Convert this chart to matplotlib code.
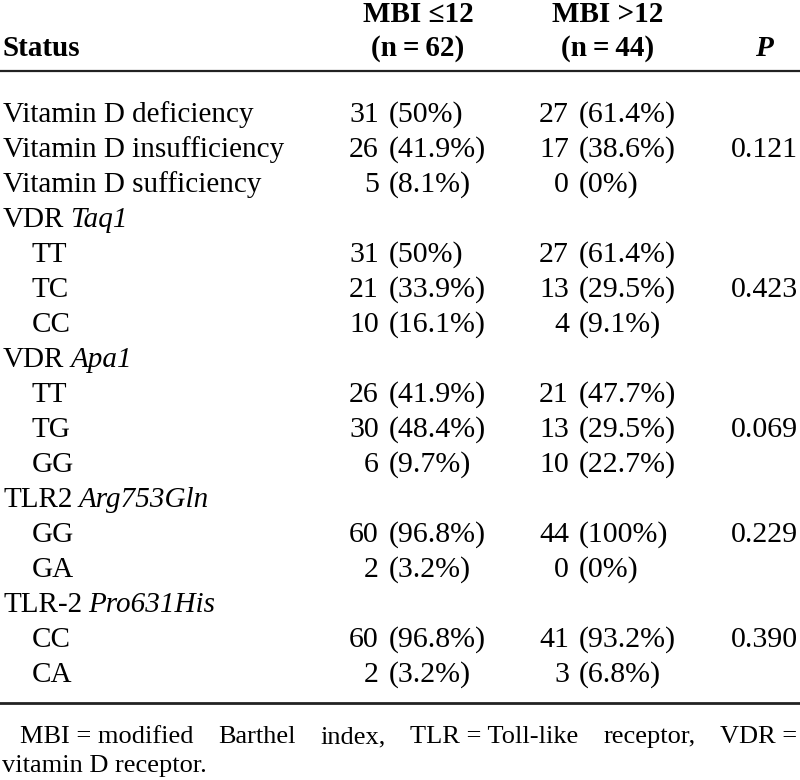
import matplotlib
matplotlib.use("Agg")
import matplotlib.pyplot as plt
from matplotlib.lines import Line2D

plt.rcParams['font.family'] = ['Liberation Serif', 'DejaVu Serif']

# table content
header_groups = ["MBI \u226412", "MBI >12"]
header_counts = ["(n\u2009=\u200962)", "(n\u2009=\u200944)"]

status_text = ["Vitamin D deficiency", "Vitamin D insufficiency", "Vitamin D sufficiency",
               "VDR", "TT", "TC", "CC",
               "VDR", "TT", "TG", "GG",
               "TLR2", "GG", "GA",
               "TLR-2", "CC", "CA"]
status_italic = ["", "", "", "Taq1", "", "", "", "Apa1", "", "", "",
                 "Arg753Gln", "", "", "Pro631His", "", ""]
is_sub = [0, 0, 0, 0, 1, 1, 1, 0, 1, 1, 1, 0, 1, 1, 0, 1, 1]

n_low = ["31", "26", "5", "", "31", "21", "10", "", "26", "30", "6", "", "60", "2", "", "60", "2"]
pct_low = ["50%", "41.9%", "8.1%", "", "50%", "33.9%", "16.1%", "", "41.9%", "48.4%", "9.7%",
           "", "96.8%", "3.2%", "", "96.8%", "3.2%"]
n_high = ["27", "17", "0", "", "27", "13", "4", "", "21", "13", "10", "", "44", "0", "", "41", "3"]
pct_high = ["61.4%", "38.6%", "0%", "", "61.4%", "29.5%", "9.1%", "", "47.7%", "29.5%", "22.7%",
            "", "100%", "0%", "", "93.2%", "6.8%"]
p_values = ["", "0.121", "", "", "", "0.423", "", "", "", "0.069", "", "",
            "0.229", "", "", "0.390", ""]

footnote_words = ["MBI = modified", "Barthel", "index,", "TLR = Toll-like",
                  "receptor,", "VDR ="]
footnote_line2 = "vitamin D receptor."

W, H = 800, 780
fig = plt.figure(figsize=(W / 100, H / 100), dpi=100)
renderer = fig.canvas.get_renderer()


def px(x, y):
    return x / W, 1 - y / H


def put(x, y, s, **kw):
    return fig.text(*px(x, y), s, va='baseline', **kw)


def width_of(t):
    return t.get_window_extent(renderer=renderer).width


lab_size = 21
num_size = 21.5
head_size = 21

# header
col_low, col_high, col_p = 418, 608, 764
for cx, g, c in zip([col_low, col_high], header_groups, header_counts):
    put(cx, 22, g, ha='center', fontsize=head_size, fontweight='bold')
    put(cx, 56, c, ha='center', fontsize=head_size, fontweight='bold')
put(3, 56, "Status", ha='left', fontsize=head_size, fontweight='bold')
put(col_p, 56, "P", ha='center', fontsize=head_size, fontweight='bold', style='italic')

# rules
fig.add_artist(Line2D([0, 1], [1 - 71 / H] * 2, color='#222222', lw=1.6, transform=fig.transFigure))
fig.add_artist(Line2D([0, 1], [1 - 703 / H] * 2, color='#222222', lw=2.0, transform=fig.transFigure))

# body rows
paren_low, paren_high = 389, 579
for i in range(len(status_text)):
    y = 122 + 35 * i
    x0 = 32 if is_sub[i] else 3
    t = put(x0, y, status_text[i], ha='left', fontsize=lab_size)
    if status_italic[i]:
        put(x0 + width_of(t) + 6, y, status_italic[i], ha='left', fontsize=lab_size, style='italic')
    if n_low[i]:
        put(paren_low - 10, y, n_low[i], ha='right', fontsize=num_size)
        put(paren_low, y, "(" + pct_low[i] + ")", ha='left', fontsize=num_size)
    if n_high[i]:
        put(paren_high - 10, y, n_high[i], ha='right', fontsize=num_size)
        put(paren_high, y, "(" + pct_high[i] + ")", ha='left', fontsize=num_size)
    if p_values[i]:
        put(col_p, y, p_values[i], ha='center', fontsize=num_size)

# footnote, first line justified
foot_size = 19
left, right = 20, 797
words = [put(0, 743, w, ha='left', fontsize=foot_size) for w in footnote_words]
widths = [width_of(w) for w in words]
gap = (right - left - sum(widths)) / (len(words) - 1)
x = left
for w, wd in zip(words, widths):
    w.set_position(px(x, 743))
    x += wd + gap
put(2, 772, footnote_line2, ha='left', fontsize=foot_size)

fig.savefig("out.png", dpi=100, facecolor='white')
